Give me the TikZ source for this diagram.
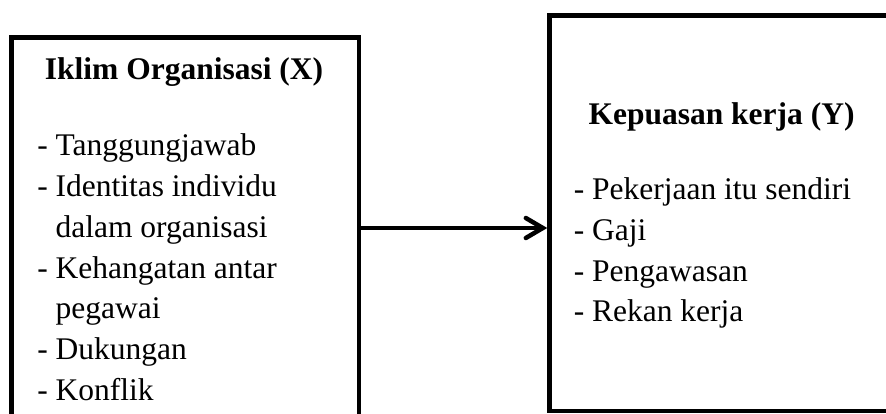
\documentclass[tikz,border=0pt]{standalone}
\usepackage{fontspec}
\setmainfont{Liberation Serif}
\usetikzlibrary{arrows.meta,positioning}
\tikzstyle{every node}=[font=\fontsize{31.5}{40.7}\selectfont,inner sep=0pt]
\tikzstyle{varbox}=[draw,rectangle]
\tikzstyle{head}=[font=\fontsize{31.5}{40.7}\selectfont\bfseries,anchor=base]
\tikzstyle{item}=[anchor=base west]

\begin{document}
\begin{tikzpicture}[x=1pt,y=-1pt,line width=4.5pt]
\useasboundingbox (0,0) rectangle (886,414);
\clip (0,0) rectangle (886,414);
% variabel X
\node[varbox,minimum width=347.5pt,minimum height=392.5pt] (iklim) at (185.25,233.75) {};
\node[head] (iklimT) at (184,80) {Iklim Organisasi (X)};
\foreach \t [count=\i] in {- Tanggungjawab,- Identitas individu,\hphantom{- }dalam organisasi,- Kehangatan antar,\hphantom{- }pegawai,- Dukungan,- Konflik}
  \node[item] (x\i) at (35,{156+40.7*(\i-1)}) {\t};
% variabel Y
\node[varbox,minimum width=350.5pt,minimum height=395.5pt] (kepuasan) at (724.75,213.25) {};
\node[head] (kepuasanT) at (721.5,124.5) {Kepuasan kerja (Y)};
\foreach \t [count=\i] in {- Pekerjaan itu sendiri,- Gaji,- Pengawasan,- Rekan kerja}
  \node[item] (y\i) at (571.5,{199.6+40.7*(\i-1)}) {\t};
% panah
\coordinate (mid) at (450,228);
\draw[-{Straight Barb[length=17pt,width=20pt,line cap=round]}] (iklim.east |- mid) -- (kepuasan.west |- mid);
\end{tikzpicture}
\end{document}
